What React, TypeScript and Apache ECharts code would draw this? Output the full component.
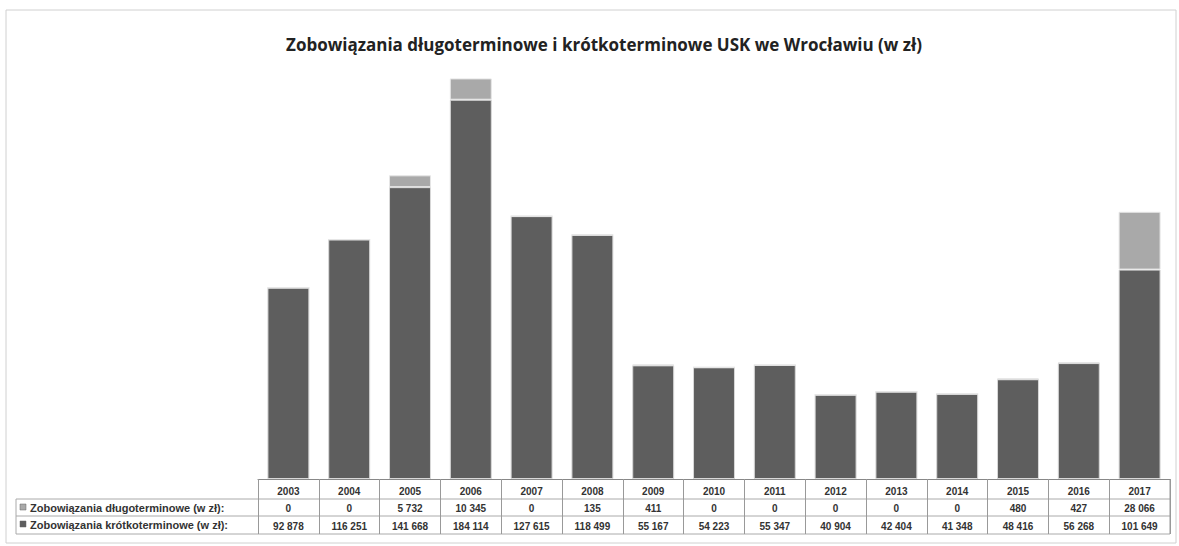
import React, { useEffect, useRef } from "react";
import * as echarts from "echarts";

const years = ["2003","2004","2005","2006","2007","2008","2009","2010","2011","2012","2013","2014","2015","2016","2017"];
const longTerm = [0, 0, 5732, 10345, 0, 135, 411, 0, 0, 0, 0, 0, 480, 427, 28066];
const shortTerm = [92878, 116251, 141668, 184114, 127615, 118499, 55167, 54223, 55347, 40904, 42404, 41348, 48416, 56268, 101649];
const seriesNames = ["Zobowiązania długoterminowe (w zł):", "Zobowiązania krótkoterminowe (w zł):"];
const titleText = "Zobowiązania długoterminowe i krótkoterminowe USK we Wrocławiu (w zł)";

const fmt = (v: number) => String(v).replace(/\B(?=(\d{3})+(?!\d))/g, " ");

export default function App() {
  const ref = useRef<HTMLDivElement>(null);
  useEffect(() => {
    const chart = echarts.init(ref.current!, null, { renderer: "svg" });
    const font = "'Liberation Sans', Arial, sans-serif";
    const tableLeft = 16;
    const gridLeft = 258;
    const gridRight = 1170;
    const rowLines = [499, 516, 534];
    chart.setOption({
      animation: false,
      backgroundColor: "#ffffff",
      title: {
        text: titleText,
        left: 599,
        textAlign: "center",
        top: 31,
        textStyle: { fontFamily: "'Open Sans', sans-serif", fontWeight: "bold", fontSize: 17, color: "#222" },
      },
      grid: { left: gridLeft, right: 1179 - gridRight, top: 67, bottom: 546 - 479 },
      xAxis: {
        type: "category",
        data: years,
        axisLine: { show: true, lineStyle: { color: "#888", width: 1 } },
        axisTick: { show: true, length: 55, lineStyle: { color: "#999" } },
        axisLabel: {
          margin: 3,
          interval: 0,
          formatter: (v: string, i: number) => `{y|${v}}\n{a|${fmt(longTerm[i])}}\n{b|${fmt(shortTerm[i])}}`,
          rich: {
            y: { fontFamily: font, fontSize: 10, fontWeight: "bold", color: "#333", lineHeight: 18 },
            a: { fontFamily: font, fontSize: 10, fontWeight: "bold", color: "#333", lineHeight: 17 },
            b: { fontFamily: font, fontSize: 10, fontWeight: "bold", color: "#333", lineHeight: 18 },
          },
        },
      },
      yAxis: { type: "value", min: 0, max: 200000, show: false, splitLine: { show: false } },
      series: [
        {
          name: seriesNames[1],
          type: "bar",
          stack: "total",
          data: shortTerm,
          barWidth: "69%",
          itemStyle: { color: "#5e5e5e", borderColor: "#d8d8d8", borderWidth: 1 },
        },
        {
          name: seriesNames[0],
          type: "bar",
          stack: "total",
          data: longTerm,
          barWidth: "69%",
          itemStyle: { color: "#a9a9a9", borderColor: "#e6e6e6", borderWidth: 1 },
        },
      ],
      graphic: [
        { type: "rect", shape: { x: 6, y: 10, width: 1170, height: 533 }, style: { fill: "none", stroke: "#d0d0d0", lineWidth: 1 } },
        ...rowLines.map((y) => ({ type: "line", shape: { x1: tableLeft, y1: y, x2: gridRight, y2: y }, style: { stroke: "#aaa", lineWidth: 1 } })),
        { type: "line", shape: { x1: tableLeft, y1: 499, x2: tableLeft, y2: 534 }, style: { stroke: "#aaa", lineWidth: 1 } },
        { type: "line", shape: { x1: gridRight, y1: 479, x2: gridRight, y2: 534 }, style: { stroke: "#999", lineWidth: 1 } },
        { type: "rect", shape: { x: 20, y: 504, width: 6, height: 6 }, style: { fill: "#a9a9a9", stroke: "#666", lineWidth: 0.5 } },
        { type: "text", x: 30, y: 507.5, style: { text: seriesNames[0], font: `bold 11px ${font}`, fill: "#333", verticalAlign: "middle" } },
        { type: "rect", shape: { x: 20, y: 521, width: 6, height: 6 }, style: { fill: "#5e5e5e", stroke: "#666", lineWidth: 0.5 } },
        { type: "text", x: 30, y: 524.5, style: { text: seriesNames[1], font: `bold 11px ${font}`, fill: "#333", verticalAlign: "middle" } },
      ],
    });
    return () => chart.dispose();
  }, []);
  return <div ref={ref} style={{ width: 1179, height: 546, position: "absolute", left: 0, top: 0 }} />;
}
